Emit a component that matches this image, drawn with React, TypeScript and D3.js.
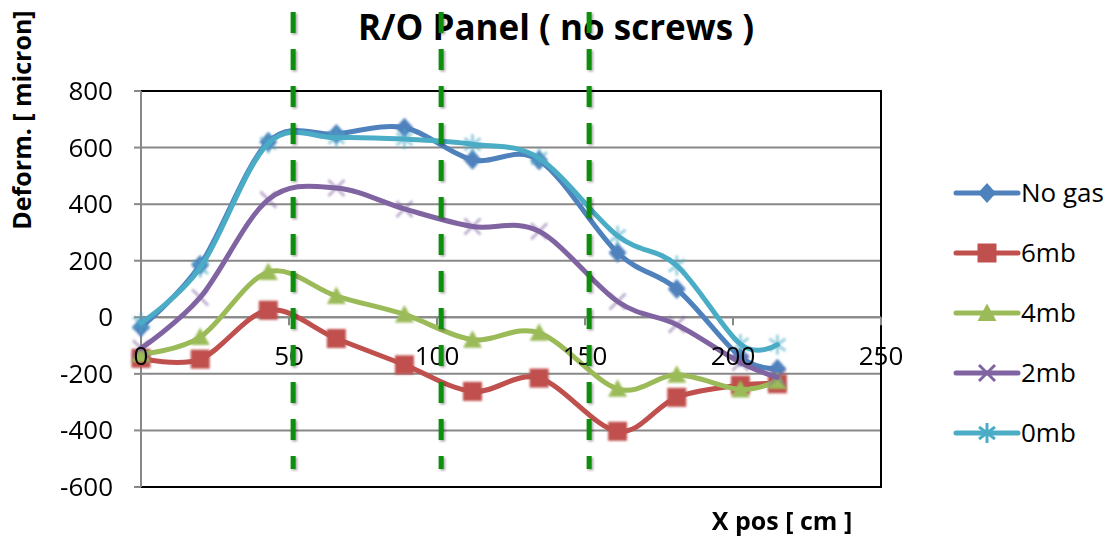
import React from "react";
import * as d3 from "d3";

// X positions of the measurement points along the panel, in cm
const xPos = [0, 20, 43, 66, 89, 112, 134.5, 161, 181, 202.5, 215];

// Deformation in microns for each pressure setting
const noGas = [-35, 185, 620, 648, 670, 557, 555, 228, 100, -140, -182];
const mb6 = [-145, -148, 25, -75, -168, -262, -215, -403, -283, -240, -235];
const mb4 = [-130, -70, 160, 75, 10, -79, -55, -253, -203, -255, -225];
const mb2 = [-110, 70, 416, 457, 383, 321, 304, 56, -26, -160, -212];
const mb0 = [-20, 175, 615, 635, 630, 612, 562, 288, 183, -95, -97];

const seriesNames = ["No gas", "6mb", "4mb", "2mb", "0mb"];
const seriesValues = [noGas, mb6, mb4, mb2, mb0];
const seriesColors = ["#4F81BD", "#C0504D", "#9BBB59", "#8064A2", "#4BACC6"];
const seriesMarkers = ["diamond", "square", "triangle", "x", "star"];

const yTicks = [-600, -400, -200, 0, 200, 400, 600, 800];
const xTicks = [0, 50, 100, 150, 200, 250];

// Reference positions marked with green dashed lines (cm)
const guideX = [51.4, 101.4, 151.4];

const W = 1107;
const H = 536;
const FONT = "'Open Sans', sans-serif";

function Marker({ type, color, cx, cy, faded }: { type: string; color: string; cx: number; cy: number; faded?: boolean }) {
  const t = `translate(${cx},${cy})`;
  if (type === "diamond") {
    return <polygon transform={t} points="0,-10 9,0 0,10 -9,0" fill={color} />;
  }
  if (type === "square") {
    return <rect transform={t} x={-9.5} y={-9.5} width={19} height={19} fill={color} />;
  }
  if (type === "triangle") {
    return <polygon transform={t} points="0,-9.5 9.5,8 -9.5,8" fill={color} />;
  }
  if (type === "x") {
    return (
      <g transform={t} stroke={color} strokeWidth={3} opacity={faded ? 0.5 : 1}>
        <line x1={-8} y1={-8} x2={8} y2={8} />
        <line x1={-8} y1={8} x2={8} y2={-8} />
      </g>
    );
  }
  return (
    <g transform={t} stroke={color} strokeWidth={3} opacity={faded ? 0.55 : 1}>
      <line x1={0} y1={-10} x2={0} y2={10} />
      <line x1={-8} y1={-6} x2={8} y2={6} />
      <line x1={-8} y1={6} x2={8} y2={-6} />
    </g>
  );
}

export default function App() {
  const x = d3.scaleLinear().domain([0, 250]).range([141, 881]);
  const y = d3.scaleLinear().domain([-600, 800]).range([487, 91]);

  const line = d3
    .line<[number, number]>()
    .x((d) => x(d[0]))
    .y((d) => y(d[1]))
    .curve(d3.curveCardinal.tension(0));

  const left = x(0);
  const right = x(250);
  const top = y(800);
  const bottom = y(-600);

  return (
    <svg
      width={W}
      height={H}
      style={{ position: "absolute", left: 0, top: 0, background: "#fff" }}
      fontFamily={FONT}
    >
      <defs>
        <filter id="soft" x="-50%" y="-50%" width="200%" height="200%">
          <feGaussianBlur stdDeviation={0.8} />
        </filter>
        <filter id="shadow" x="-100%" y="-10%" width="300%" height="120%">
          <feDropShadow dx={1.5} dy={1.5} stdDeviation={1.2} floodColor="#000" floodOpacity={0.35} />
        </filter>
      </defs>
      <rect width={W} height={H} fill="#fff" />

      {/* title */}
      <text x={556} y={40} textAnchor="middle" fontSize={35} fontWeight={700} fill="#000">
        R/O Panel ( no screws )
      </text>

      {/* horizontal gridlines */}
      {yTicks.map((v) => (
        <line key={v} x1={left} x2={right} y1={y(v)} y2={y(v)} stroke="#888" strokeWidth={2} />
      ))}

      {/* plot frame */}
      <line x1={left} x2={right} y1={top} y2={top} stroke="#000" strokeWidth={2} />
      <line x1={left} x2={right} y1={bottom} y2={bottom} stroke="#000" strokeWidth={2} />
      <line x1={right} x2={right} y1={top - 1} y2={bottom + 1} stroke="#000" strokeWidth={2} />

      {/* y axis */}
      <line x1={left} x2={left} y1={top} y2={bottom} stroke="#888" strokeWidth={2} />
      {yTicks.map((v) => (
        <line key={v} x1={left - 7} x2={left} y1={y(v)} y2={y(v)} stroke="#888" strokeWidth={2} />
      ))}

      {/* x axis crossing at zero */}
      <line x1={left} x2={right} y1={y(0)} y2={y(0)} stroke="#888" strokeWidth={2} />
      {xTicks.map((v) => (
        <line key={v} x1={x(v)} x2={x(v)} y1={y(0)} y2={y(0) + 8} stroke="#888" strokeWidth={2} />
      ))}

      {/* series */}
      {seriesValues.map((vals, i) => {
        const pts = xPos.map((xv, j) => [xv, vals[j]] as [number, number]);
        return (
          <g key={seriesNames[i]}>
            <path d={line(pts) || ""} fill="none" stroke={seriesColors[i]} strokeWidth={5} strokeLinecap="round" />
            <g filter="url(#soft)">
              {pts.map((p, j) => (
                <Marker key={j} type={seriesMarkers[i]} color={seriesColors[i]} cx={x(p[0])} cy={y(p[1])} faded />
              ))}
            </g>
          </g>
        );
      })}

      {/* tick labels */}
      {yTicks.map((v) => (
        <text key={v} x={113} y={y(v) + 9} textAnchor="end" fontSize={26} fill="#000">
          {v}
        </text>
      ))}
      {xTicks.map((v) => (
        <text key={v} x={x(v)} y={y(0) + 48} textAnchor="middle" fontSize={26} fill="#000">
          {v}
        </text>
      ))}

      {/* axis titles */}
      <text
        transform={`translate(31,120) rotate(-90)`}
        textAnchor="middle"
        fontSize={25}
        fontWeight={700}
        fill="#000"
      >
        Deform. [ micron]
      </text>
      <text x={782} y={530} textAnchor="middle" fontSize={25} fontWeight={700} fill="#000">
        X pos [ cm ]
      </text>

      {/* dashed guide lines */}
      <g filter="url(#shadow)">
        {guideX.map((g) => (
          <line
            key={g}
            x1={x(g)}
            x2={x(g)}
            y1={-25}
            y2={469}
            stroke="#0a8f0a"
            strokeWidth={5}
            strokeDasharray="21 16"
          />
        ))}
      </g>

      {/* legend */}
      {seriesNames.map((name, i) => {
        const ly = 193 + i * 60;
        return (
          <g key={name}>
            <line x1={956} x2={1018} y1={ly} y2={ly} stroke={seriesColors[i]} strokeWidth={5} strokeLinecap="round" />
            <Marker type={seriesMarkers[i]} color={seriesColors[i]} cx={987} cy={ly} />
            <text x={1021} y={ly + 9} fontSize={26} fill="#000">
              {name}
            </text>
          </g>
        );
      })}
    </svg>
  );
}
